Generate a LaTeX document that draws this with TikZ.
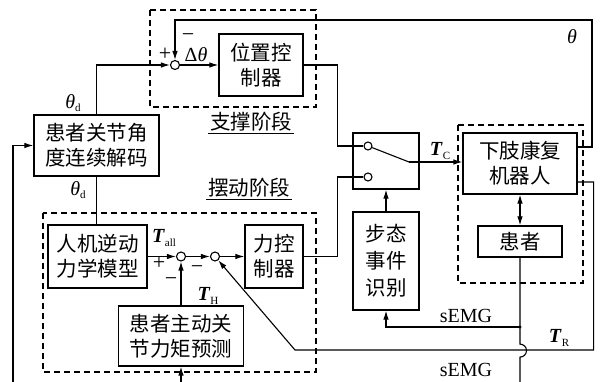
\documentclass[tikz,border=0pt]{standalone}
\usepackage{fontspec}
\setmainfont{Liberation Serif}
\newfontfamily\cjk{Noto Sans CJK SC}
\usetikzlibrary{arrows.meta}
\newcommand{\cjkf}{\cjk\fontsize{20.5}{25}\selectfont}
\newcommand{\labf}{\fontsize{20}{24}\selectfont}
\newcommand{\sub}[1]{\raisebox{-0.4ex}{\fontsize{11}{11}\selectfont #1}}
\newcommand{\vT}[1]{\textbf{\textit{T}}\sub{#1}}
\tikzset{
  blk/.style={draw,line width=1.2pt,align=center,font=\cjkf,inner sep=0pt},
  sumj/.style={circle,draw,line width=1.1pt,minimum size=9pt,inner sep=0pt},
  contact/.style={circle,draw,line width=1.1pt,minimum size=8pt,inner sep=0pt},
  stage/.style={draw,line width=1.2pt,dash pattern=on 6pt off 4pt},
  sig/.style={line width=1.1pt},
  arr/.style={sig,-{Latex[length=9pt,width=5.5pt]}},
  lab/.style={font=\labf,inner sep=0pt},
  sgn/.style={font=\fontsize{22}{22}\selectfont,inner sep=0pt},
  stagelab/.style={font=\cjkf,inner sep=1.5pt},
}

\begin{document}
\begin{tikzpicture}[x=1pt,y=-1pt]
  \useasboundingbox (0,0) rectangle (600,382);
  % stage frames
  \draw[stage] (150,10) rectangle (316,107);
  \draw[stage] (43,213) rectangle (316,372);
  \draw[stage] (458,125) rectangle (583,283);
  \node[stagelab] (suplab) at (251,122) {支撑阶段};
  \draw[sig] (suplab.south west) -- (suplab.south east);
  \node[stagelab] (swlab) at (249,188) {摆动阶段};
  \draw[sig] (swlab.south west) -- (swlab.south east);

  % blocks
  \node[blk,minimum width=125pt,minimum height=61pt] (dec) at (96.5,145.5) {患者关节角\\度连续解码};
  \node[blk,minimum width=84pt,minimum height=62pt] (pos) at (261,65) {位置控\\制器};
  \node[blk,minimum width=66pt,minimum height=56pt] (sw) at (386,161) {};
  \node[blk,minimum width=114pt,minimum height=61pt] (robot) at (520,163.5) {下肢康复\\机器人};
  \node[blk,minimum width=84pt,minimum height=31pt] (pat) at (520,241.5) {患者};
  \node[blk,minimum width=66pt,minimum height=98pt,font=\cjk\fontsize{20.5}{27}\selectfont] (gait) at (386,261) {步态\\事件\\识别};
  \node[blk,minimum width=99pt,minimum height=63pt] (idm) at (97.5,256.5) {人机逆动\\力学模型};
  \node[blk,minimum width=58pt,minimum height=63pt] (frc) at (274,256.5) {力控\\制器};
  \node[blk,minimum width=125pt,minimum height=60pt] (tq) at (181,336) {患者主动关\\节力矩预测};

  % junctions and switch contacts
  \node[sumj] (j1) at (175,65) {};
  \node[sumj] (j2) at (181,256.5) {};
  \node[sumj] (j3) at (215,256.5) {};
  \node[contact] (c1) at (368,146) {};
  \node[contact] (c2) at (368,177) {};
  \coordinate (lv) at (409,162);
  \coordinate (inp) at (13,382);
  \coordinate (fbtop) at (592,20);
  \coordinate (br) at (520,327);
  \coordinate (emgout) at (520,382);
  \coordinate (trc) at (295,350);
  \coordinate (tqin) at (181,382);

  % connectors
  \draw[arr] (inp) |- (dec.west);
  \draw[arr] (dec.north) |- (j1.west);
  \draw[sig] (dec.south) -- (dec.south |- idm.north);
  \draw[arr] (j1.east) -- (pos.west);
  \draw[arr] ([yshift=16.5pt]robot.east) -| (fbtop) -| (j1.north);
  \draw[sig] (pos.east) -- ++(34,0) |- (c1.west);
  \draw[sig] (frc.east) -- ++(34,0) |- (c2.west);
  \draw[sig] (c1.-21) -- (lv);
  \draw[arr] (lv) -- (lv -| robot.west);
  \draw[arr] (gait.north) -- (sw.south);
  \draw[sig,{Latex[length=9pt,width=5.5pt]}-{Latex[length=9pt,width=5.5pt]}] (robot.south) -- (pat.north);
  \draw[sig] (pat.south) -- ++(0,86.5) arc[start angle=-90,end angle=90,radius=6.5] -- (emgout);
  \fill (br) circle (1.6);
  \draw[arr] (br) -| (gait.south);
  \draw[arr] ([yshift=-18.5pt]robot.east) -- ++(16,0) |- (trc) -- (j3);
  \draw[arr] (idm.east) -- (j2.west);
  \draw[arr] (tq.north) -- (j2.south);
  \draw[arr] (j2.east) -- (j3.west);
  \draw[arr] (j3.east) -- (frc.west);
  \draw[arr] (tqin) -- (tq.south);

  % signal labels
  \node[lab] (tdu) at (73,103) {\textit{θ}\sub{d}};
  \node[lab] (tdl) at (78,190) {\textit{θ}\sub{d}};
  \node[sgn] (p1) at (165,54) {+};
  \node[sgn] (m1) at (188,38) {−};
  \node[lab] (dth) at (196,55) {Δ\textit{θ}};
  \node[lab] (th) at (572,37) {\textit{θ}};
  \node[lab] (tc) at (440,151) {\vT{C}};
  \node[lab] (tall) at (164,238) {\vT{all}};
  \node[lab] (th2) at (208,296) {\vT{H}};
  \node[lab] (tr) at (559,338) {\vT{R}};
  \node[sgn] (p2) at (159,263) {+};
  \node[sgn] (m2) at (171,282) {−};
  \node[sgn] (m3) at (197,270) {−};
  \node[lab] (emg1) at (466,316) {sEMG};
  \node[lab] (emg2) at (466,370) {sEMG};
\end{tikzpicture}
\end{document}
